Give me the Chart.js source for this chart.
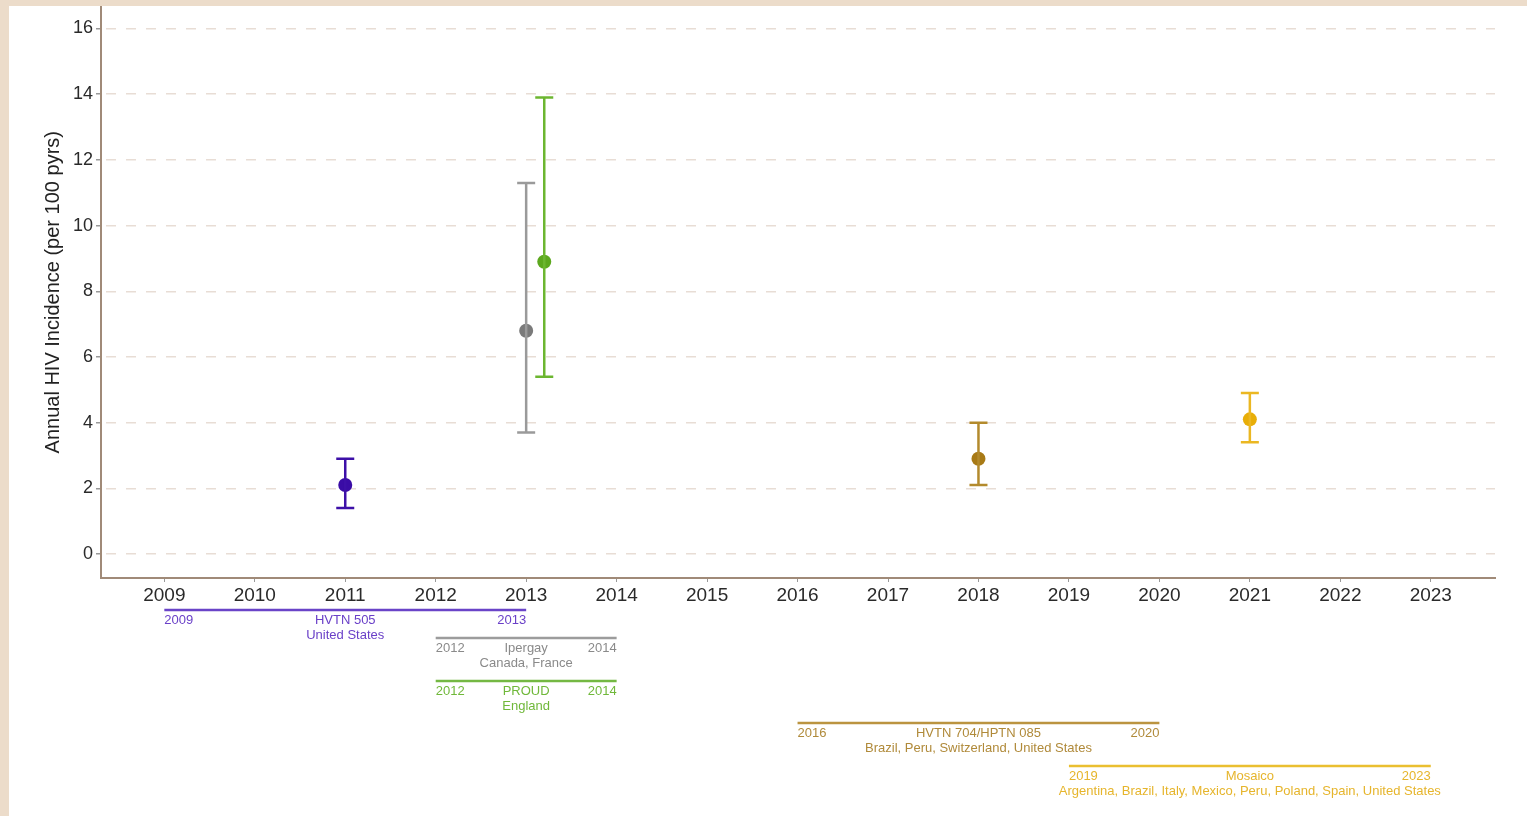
<!DOCTYPE html>
<html>
<head>
<meta charset="utf-8">
<title>Annual HIV Incidence</title>
<script src="https://cdn.jsdelivr.net/npm/chart.js@4.4.1/dist/chart.umd.min.js"></script>
<style>
  html, body { margin: 0; padding: 0; }
  body { background: #ecdcca; width: 1527px; height: 816px; overflow: hidden; position: relative; }
  #wrap { position: absolute; left: 9px; top: 6px; width: 1518px; height: 810px; background: #fff; overflow: hidden; }
  #wrap canvas { display: block; position: absolute; left: 0; top: -11px; }
</style>
</head>
<body>
<div id="wrap"><canvas id="incidence-chart" width="1518" height="821"></canvas></div>
<script>
// studies and their incidence estimates
var studies = ["HVTN 505", "Ipergay", "PROUD", "HVTN 704/HPTN 085", "Mosaico"];
var countries = [
    "United States",
    "Canada, France",
    "England",
    "Brazil, Peru, Switzerland, United States",
    "Argentina, Brazil, Italy, Mexico, Peru, Poland, Spain, United States",
];
var plotYear = [2011, 2013, 2013.2, 2018, 2021];
var incidence = [2.1, 6.8, 8.9, 2.9, 4.1];
var ciLow = [1.4, 3.7, 5.4, 2.1, 3.4];
var ciHigh = [2.9, 11.3, 13.9, 4.0, 4.9];
var startYear = [2009, 2012, 2012, 2016, 2019];
var endYear = [2013, 2014, 2014, 2020, 2023];

// tick labels
var xTicks = [2009, 2010, 2011, 2012, 2013, 2014, 2015, 2016, 2017, 2018, 2019, 2020, 2021, 2022, 2023];
var yTicks = [0, 2, 4, 6, 8, 10, 12, 14, 16];

var pointColors = ["#3a0ca6", "#7a7a7a", "#5ca81e", "#a87a16", "#e8ae08"];
var barColors = ["#3d10a8", "#9a9a9a", "#6cb630", "#b38a2c", "#ebb722"];
var lineColors = ["#6a44c8", "#9c9c9c", "#74b843", "#bb9440", "#eabf30"];
var textColors = ["#6a40c8", "#8a8a8a", "#70b83a", "#b08a3a", "#e6b52c"];
// distance of each study row below the x axis
var rowOffset = [32, 60, 103, 145, 188];

var FONT = "'Liberation Sans', Arial, sans-serif";

var datasets = [];
studies.forEach(function (name, i) {
    // confidence interval: vertical line with caps
    datasets.push({
        label: name + " CI",
        data: [{ x: plotYear[i], y: ciLow[i] }, { x: plotYear[i], y: ciHigh[i] }],
        showLine: true,
        borderColor: barColors[i],
        borderWidth: 2.5,
        pointStyle: "line",
        pointRadius: 9,
        pointHoverRadius: 9,
        pointBorderWidth: 2.5,
        pointBorderColor: barColors[i],
    });
    datasets.push({
        label: name,
        data: [{ x: plotYear[i], y: incidence[i] }],
        pointStyle: "circle",
        pointRadius: 7,
        pointHoverRadius: 7,
        pointBorderWidth: 0,
        backgroundColor: pointColors[i],
        borderColor: pointColors[i],
    });
});

// study periods drawn under the x axis
var timelinePlugin = {
    id: "timelines",
    afterDraw: function (chart) {
        var ctx = chart.ctx;
        var xs = chart.scales.x;
        var base = chart.chartArea.bottom;
        ctx.save();
        ctx.font = "13px " + FONT;
        ctx.textBaseline = "middle";
        studies.forEach(function (name, i) {
            var x1 = xs.getPixelForValue(startYear[i]);
            var x2 = xs.getPixelForValue(endYear[i]);
            var y = base + rowOffset[i];
            ctx.strokeStyle = lineColors[i];
            ctx.lineWidth = 2.5;
            ctx.beginPath();
            ctx.moveTo(x1, y);
            ctx.lineTo(x2, y);
            ctx.stroke();
            ctx.fillStyle = textColors[i];
            ctx.textAlign = "left";
            ctx.fillText(String(startYear[i]), x1, y + 10);
            ctx.textAlign = "right";
            ctx.fillText(String(endYear[i]), x2, y + 10);
            ctx.textAlign = "center";
            ctx.fillText(name, (x1 + x2) / 2, y + 10);
            ctx.fillText(countries[i], (x1 + x2) / 2, y + 25);
        });
        ctx.restore();
    },
};

var ctx = document.getElementById("incidence-chart").getContext("2d");

new Chart(ctx, {
    type: "scatter",
    data: { datasets: datasets },
    plugins: [timelinePlugin],
    options: {
        responsive: false,
        animation: false,
        layout: { padding: { left: 0, right: 32, top: 0, bottom: 0 } },
        plugins: {
            legend: { display: false },
            tooltip: { enabled: false },
        },
        scales: {
            x: {
                type: "linear",
                min: 2008.3,
                max: 2023.71,
                afterBuildTicks: function (scale) {
                    scale.ticks = xTicks.map(function (v) { return { value: v }; });
                },
                afterFit: function (scale) {
                    scale.height = 238;
                    scale.paddingLeft = 0;
                    scale.paddingRight = 0;
                },
                border: { display: true, color: "#a08a78", width: 2 },
                grid: { drawOnChartArea: false, tickLength: 4, color: "#999" },
                ticks: {
                    padding: 2,
                    color: "#2a2a2a",
                    font: { family: FONT, size: 19 },
                    callback: function (v) { return String(v); },
                },
            },
            y: {
                min: -0.73,
                max: 16.67,
                afterBuildTicks: function (scale) {
                    scale.ticks = yTicks.map(function (v) { return { value: v }; });
                },
                afterFit: function (scale) {
                    scale.width = 92;
                    scale.paddingTop = 0;
                    scale.paddingBottom = 0;
                },
                border: { display: true, color: "#a08a78", width: 2, dash: [10, 10], dashOffset: -4 },
                grid: {
                    color: "#e8ddd5",
                    lineWidth: 1.5,
                    tickLength: 5,
                    tickColor: "#999",
                },
                ticks: {
                    padding: 3,
                    color: "#2a2a2a",
                    font: { family: FONT, size: 18 },
                },
                title: {
                    display: true,
                    text: "Annual HIV Incidence (per 100 pyrs)",
                    color: "#222",
                    font: { family: FONT, size: 20 },
                    padding: { top: 32, bottom: 0 },
                },
            },
        },
    },
});
</script>
</body>
</html>
